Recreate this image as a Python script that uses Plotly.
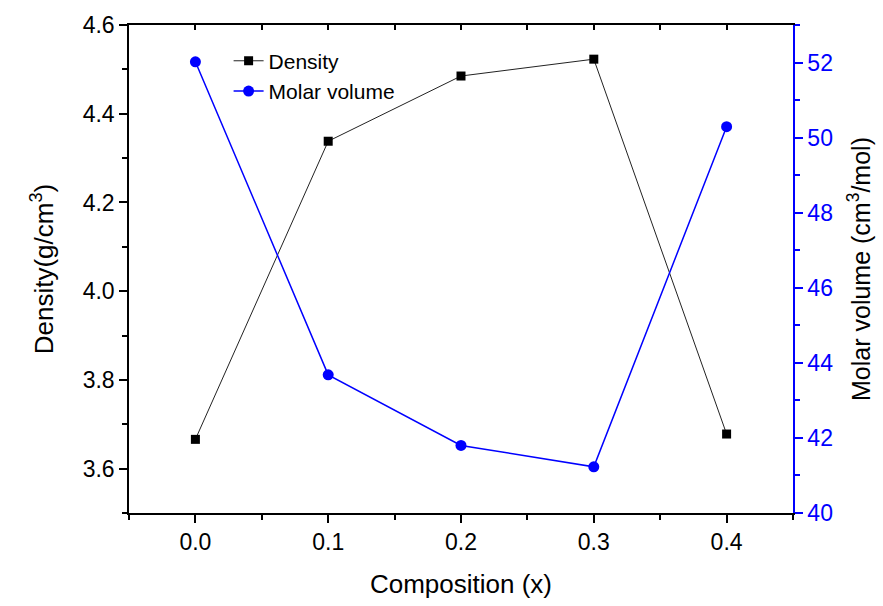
import plotly.graph_objects as go

composition = [0.0, 0.1, 0.2, 0.3, 0.4]
density = [3.666, 4.338, 4.485, 4.523, 3.678]
molar_volume = [52.02, 43.68, 41.80, 41.23, 50.29]

FONT = "Liberation Sans, Arial, sans-serif"
BLUE = "#0000FF"

fig = go.Figure()
fig.add_trace(go.Scatter(
    x=composition, y=density, name="Density", mode="lines+markers",
    line=dict(color="#222222", width=1),
    marker=dict(symbol="square", size=9, color="black"),
    xaxis="x", yaxis="y"))
fig.add_trace(go.Scatter(
    x=composition, y=molar_volume, name="Molar volume", mode="lines+markers",
    line=dict(color=BLUE, width=1.5),
    marker=dict(symbol="circle", size=11, color=BLUE),
    xaxis="x", yaxis="y2"))
# invisible trace so that the top (inside-tick) axis is drawn
fig.add_trace(go.Scatter(x=[None], y=[None], xaxis="x2", yaxis="y",
                         showlegend=False, hoverinfo="skip"))

fig.update_layout(
    width=883, height=606,
    margin=dict(l=129, r=90, t=20, b=93),
    plot_bgcolor="white", paper_bgcolor="white",
    font=dict(family=FONT, color="black", size=23),
    showlegend=True,
    legend=dict(x=0.15, y=0.968, xanchor="left", yanchor="top",
                bgcolor="rgba(0,0,0,0)", font=dict(size=21),
                itemwidth=30, tracegroupgap=0),
    xaxis=dict(
        range=[-0.05, 0.45], dtick=0.1, tick0=0, tickformat=".1f",
        showline=True, linecolor="black", linewidth=1.5,
        ticks="outside", ticklen=8, tickwidth=1.5, tickcolor="black",
        minor=dict(dtick=0.05, ticks="outside", ticklen=5, tickwidth=1.5, tickcolor="black"),
        showgrid=False, zeroline=False,
        title=dict(text="Composition (x)", font=dict(size=26), standoff=20),
        tickfont=dict(size=23),
    ),
    xaxis2=dict(
        overlaying="x", side="top", range=[-0.05, 0.45], dtick=0.05, tick0=0,
        showline=True, linecolor="black", linewidth=1.5,
        ticks="inside", ticklen=5, tickwidth=1.5, tickcolor="black",
        showticklabels=False, showgrid=False, zeroline=False,
    ),
    yaxis=dict(
        range=[3.5, 4.6], dtick=0.2, tick0=3.6, tickformat=".1f",
        showline=True, linecolor="black", linewidth=1.5,
        ticks="outside", ticklen=8, tickwidth=1.5, tickcolor="black",
        minor=dict(dtick=0.1, ticks="outside", ticklen=5, tickwidth=1.5, tickcolor="black"),
        showgrid=False, zeroline=False,
        title=dict(text="Density(g/cm<sup>3</sup>)", font=dict(size=26), standoff=22),
        tickfont=dict(size=23),
    ),
    yaxis2=dict(
        overlaying="y", side="right", anchor="x",
        range=[40, 53], dtick=2, tick0=40,
        showline=True, linecolor=BLUE, linewidth=1.5,
        ticks="outside", ticklen=8, tickwidth=1.5, tickcolor=BLUE,
        minor=dict(dtick=1, ticks="outside", ticklen=5, tickwidth=1.5, tickcolor=BLUE),
        showgrid=False, zeroline=False,
        tickfont=dict(size=23, color=BLUE),
        title=dict(text="Molar volume (cm<sup>3</sup>/mol)", font=dict(size=25, color="black"), standoff=20),
    ),
)

fig.write_html("out.html")
